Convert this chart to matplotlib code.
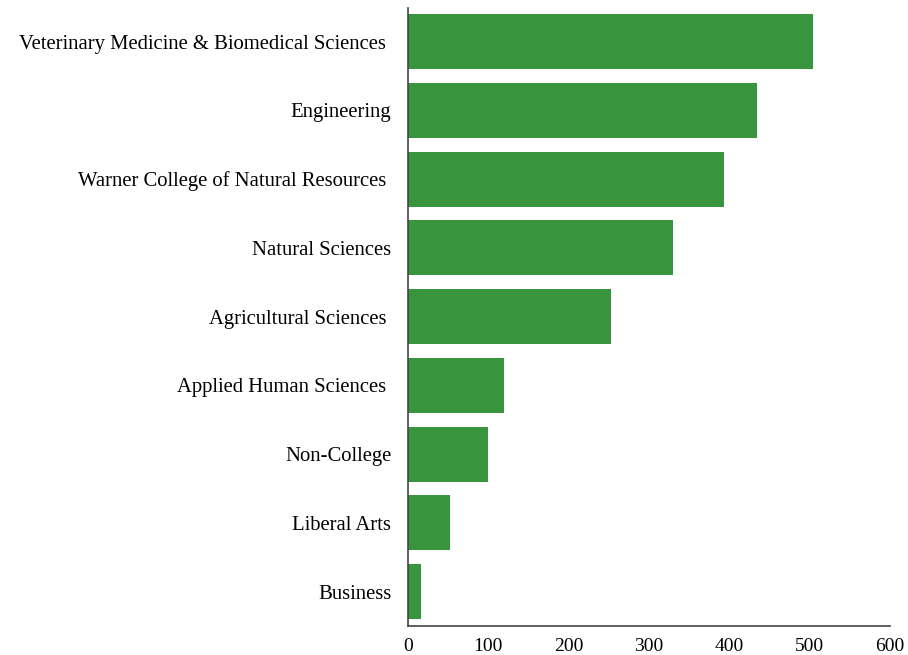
import matplotlib
matplotlib.use("Agg")
import matplotlib.pyplot as plt

# colleges, top to bottom as shown
colleges = ['Veterinary Medicine & Biomedical Sciences ', 'Engineering',
            'Warner College of Natural Resources ', 'Natural Sciences',
            'Agricultural Sciences ', 'Applied Human Sciences ',
            'Non-College', 'Liberal Arts', 'Business']
counts = [504, 434, 393, 330, 253, 120, 100, 52, 16]
x_ticks = [0, 100, 200, 300, 400, 500, 600]

plt.rcParams['font.family'] = ['Liberation Serif', 'DejaVu Serif']

fig = plt.figure(figsize=(9.08, 6.55), dpi=100)
ax = fig.add_axes([0.4493, 0.045, 0.5309, 0.9427])

# bottom-up positions so first college sits on top
pos = list(range(len(colleges)))[::-1]
ax.barh(pos, counts, height=0.8, color='#38943d')

ax.set_yticks(pos)
ax.set_yticklabels(colleges, fontsize=14.9)
ax.set_xticks(x_ticks)
ax.set_xticklabels([str(t) for t in x_ticks], fontsize=14)
ax.set_xlim(0, 600)
ax.set_ylim(-0.494, 8.487)

ax.tick_params(axis='both', length=0)
ax.tick_params(axis='y', pad=12)
ax.tick_params(axis='x', pad=9)
for side in ['top', 'right']:
    ax.spines[side].set_visible(False)
for side in ['left', 'bottom']:
    ax.spines[side].set_color('#444444')
    ax.spines[side].set_linewidth(1.2)

plt.savefig('out.png', dpi=100)
